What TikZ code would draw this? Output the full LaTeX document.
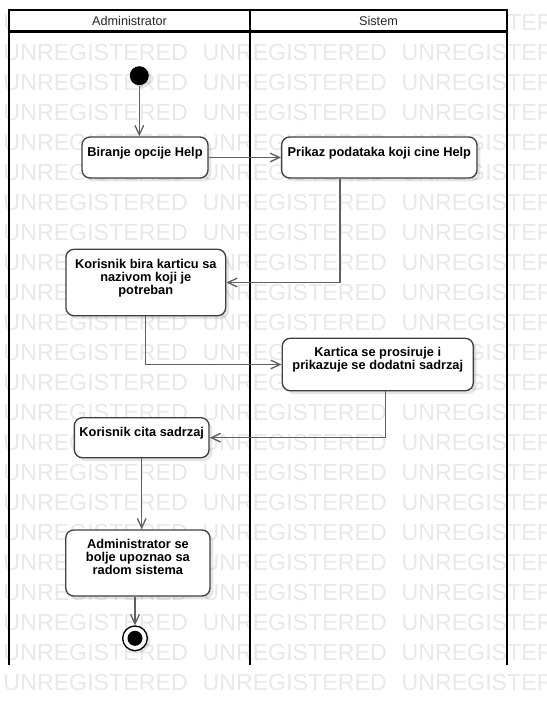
\documentclass[tikz,border=0pt]{standalone}
\usepackage{fontspec}
\setmainfont{Liberation Sans}
\usetikzlibrary{arrows.meta,shadows,calc}
\tikzset{every picture/.style={line width=0.75pt}}

\begin{document}
\begin{tikzpicture}[x=0.75pt,y=0.75pt,yscale=-1,xscale=1,
	wmark/.style={anchor=base west, inner sep=0, text={rgb, 255:red, 232; green, 232; blue, 232 }, font=\fontsize{17.4}{20}\selectfont},
	lane/.style={draw=black, line width=1.6pt},
	act/.style={draw={rgb, 255:red, 64; green, 64; blue, 64 }, fill=white, rounded corners=6pt, line width=1pt, inner sep=0, drop shadow={shadow xshift=2.5pt, shadow yshift=-2.5pt, fill=black, opacity=0.1}},
	acttext/.style={anchor=north, inner sep=0, align=center, font=\fontsize{9.6}{9.75}\selectfont\bfseries},
	flow/.style={draw={rgb, 255:red, 96; green, 96; blue, 96 }, line width=1pt, -{Straight Barb[length=7pt,width=6.5pt]}}
	]
	\useasboundingbox (0,0) rectangle (546,706);

	%Watermark
	\foreach \r in {0,...,22} {
		\foreach \c in {0,1,2} {
			\node[wmark] (wm-\r-\c) at (3+199*\c,30.8+30*\r) {UNREGISTERED};
		}
	}

	%Swimlanes
	\fill[white] (9,10) rectangle (507,31.5);
	\draw[lane] (9,665) -- (9,10) -- (507,10) -- (507,665);
	\draw[lane] (9,31.5) -- (507,31.5);
	\draw[lane] (250,10) -- (250,665);
	% Text Node
	\node[font=\fontsize{9.5}{11}\selectfont, text=black!85] (hdradmin) at (129.5,20.8) {Administrator};
	% Text Node
	\node[font=\fontsize{9.5}{11}\selectfont, text=black!85] (hdrsistem) at (378.5,20.8) {Sistem};

	%Shape: Initial
	\node[circle, fill=black, minimum size=14.25pt, inner sep=0, drop shadow={shadow xshift=2pt, shadow yshift=-2pt, fill=black, opacity=0.1}] (init) at (139.3,75.7) {};

	%Shape: Rounded Rect
	\node[act, minimum width=94.5pt, minimum height=30.75pt] (biranje) at (145,157.5) {};
	\node[acttext] (biranje-t) at (145,146.5) {Biranje opcije Help};
	%Shape: Rounded Rect
	\node[act, minimum width=146.5pt, minimum height=30.75pt] (prikaz) at (379.3,157.5) {};
	\node[acttext] (prikaz-t) at (379.3,146.5) {Prikaz podataka koji cine Help};
	%Shape: Rounded Rect
	\node[act, minimum width=119.8pt, minimum height=49.8pt] (bira) at (145.8,282.5) {};
	\node[acttext] (bira-t) at (145.8,258.5) {Korisnik bira karticu sa\\nazivom koji je\\potreban};
	%Shape: Rounded Rect
	\node[act, minimum width=143.3pt, minimum height=39.3pt] (kartica) at (377.8,364.5) {};
	\node[acttext] (kartica-t) at (377.8,346.5) {Kartica se prosiruje i\\prikazuje se dodatni sadrzaj};
	%Shape: Rounded Rect
	\node[act, minimum width=101pt, minimum height=30pt] (cita) at (141.7,437.7) {};
	\node[acttext] (cita-t) at (141.7,426.5) {Korisnik cita sadrzaj};
	%Shape: Rounded Rect
	\node[act, minimum width=108.2pt, minimum height=49.5pt] (admin) at (137.9,563) {};
	\node[acttext] (admin-t) at (137.9,538.5) {Administrator se\\bolje upoznao sa\\radom sistema};

	%Shape: Final
	\node[circle, draw=black, fill=white, line width=1pt, minimum size=18.5pt, inner sep=0, drop shadow={shadow xshift=2pt, shadow yshift=-2pt, fill=black, opacity=0.1}] (final) at (135,638.3) {};
	\node[circle, fill=black, minimum size=11.25pt, inner sep=0] (final-dot) at (final) {};

	%Straight Lines
	\draw[flow] (init) -- (init |- biranje.north);
	\draw[flow] (biranje) -- (prikaz);
	\draw[flow] ($(prikaz.south)+(-39.3,0)$) |- (bira.east);
	\draw[flow] (bira.south) |- (kartica.west);
	\draw[flow] ($(kartica.south)+(7.9,0)$) |- (cita.east);
	\draw[flow] (cita.south) -- (cita.south |- admin.north);
	\draw[flow] (admin.south -| final) -- (final);

\end{tikzpicture}
\end{document}
